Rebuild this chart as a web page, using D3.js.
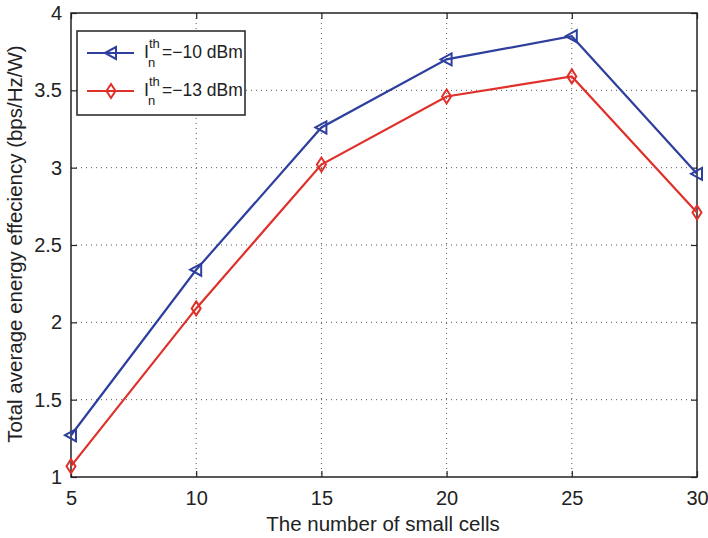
<!DOCTYPE html>
<html>
<head>
<meta charset="utf-8">
<script src="https://cdn.jsdelivr.net/npm/d3@7"></script>
<style>
  body { margin: 0; background: #fff; }
  svg { font-family: "Liberation Sans", Arial, sans-serif; }
  .grid line { stroke: #555; stroke-dasharray: 1 4; stroke-width: 1; }
</style>
</head>
<body>
<svg id="chart" width="708" height="538"></svg>
<script>
const cells = [5, 10, 15, 20, 25, 30];
const eeMinus10 = [1.27, 2.34, 3.26, 3.70, 3.85, 2.96];
const eeMinus13 = [1.07, 2.09, 3.02, 3.46, 3.59, 2.71];
const xTicks = [5, 10, 15, 20, 25, 30];
const yTicks = [1, 1.5, 2, 2.5, 3, 3.5, 4];

const series = [
  { name: "−10 dBm", values: eeMinus10, color: "#2e3f9e", marker: "triangle" },
  { name: "−13 dBm", values: eeMinus13, color: "#e0302a", marker: "diamond" }
];

const svg = d3.select("#chart");
const plotL = 71, plotR = 697, plotT = 13, plotB = 477;

const x = d3.scaleLinear().domain([5, 30]).range([plotL, plotR]);
const y = d3.scaleLinear().domain([1, 4]).range([plotB, plotT]);

// grid
const grid = svg.append("g").attr("class", "grid");
grid.selectAll(".gx").data(xTicks.slice(1, -1)).enter().append("line")
  .attr("x1", d => x(d)).attr("x2", d => x(d)).attr("y1", plotT).attr("y2", plotB);
grid.selectAll(".gy").data(yTicks.slice(1, -1)).enter().append("line")
  .attr("y1", d => y(d)).attr("y2", d => y(d)).attr("x1", plotL).attr("x2", plotR);

// axes (MATLAB style, ticks inside on all sides)
const tick = 6;
const fmt = d => String(d);
svg.append("g").attr("transform", `translate(0,${plotB})`)
  .call(d3.axisBottom(x).tickValues(xTicks).tickSize(-tick).tickPadding(14).tickFormat(fmt));
svg.append("g").attr("transform", `translate(0,${plotT})`)
  .call(d3.axisTop(x).tickValues(xTicks).tickSize(-tick).tickFormat(""));
svg.append("g").attr("transform", `translate(${plotL},0)`)
  .call(d3.axisLeft(y).tickValues(yTicks).tickSize(-tick).tickPadding(9).tickFormat(fmt));
svg.append("g").attr("transform", `translate(${plotR},0)`)
  .call(d3.axisRight(y).tickValues(yTicks).tickSize(-tick).tickFormat(""));
svg.selectAll(".domain").remove();
svg.selectAll(".tick line").attr("stroke", "#222").attr("stroke-width", 1.2);
svg.selectAll(".tick text").attr("font-size", 20).attr("fill", "#222")
  .attr("font-family", "Liberation Sans, Arial, sans-serif");

svg.append("rect").attr("x", plotL).attr("y", plotT)
  .attr("width", plotR - plotL).attr("height", plotB - plotT)
  .attr("fill", "none").attr("stroke", "#222").attr("stroke-width", 1.5);

// markers
function markerPath(type) {
  if (type === "triangle") return "M-6,0 L5,-6 L5,6 Z";
  return "M0,-7 L4.5,0 L0,7 L-4.5,0 Z";
}

const line = d3.line().x((d, i) => x(cells[i])).y(d => y(d));

series.forEach(s => {
  svg.append("path").datum(s.values)
    .attr("d", line).attr("fill", "none")
    .attr("stroke", s.color).attr("stroke-width", 2.2);
  svg.selectAll(null).data(s.values).enter().append("path")
    .attr("transform", (d, i) => `translate(${x(cells[i])},${y(d)})`)
    .attr("d", markerPath(s.marker))
    .attr("fill", "none").attr("stroke", s.color).attr("stroke-width", 2);
});

// legend
const lg = svg.append("g");
lg.append("rect").attr("x", 77).attr("y", 31).attr("width", 168).attr("height", 84)
  .attr("fill", "#fff").attr("stroke", "#222").attr("stroke-width", 1.5);
series.forEach((s, i) => {
  const ly = 53 + i * 38;
  lg.append("line").attr("x1", 87).attr("x2", 134).attr("y1", ly).attr("y2", ly)
    .attr("stroke", s.color).attr("stroke-width", 2.2);
  lg.append("path").attr("transform", `translate(111,${ly})`)
    .attr("d", markerPath(s.marker))
    .attr("fill", "none").attr("stroke", s.color).attr("stroke-width", 2);
  const base = ly + 5;
  lg.append("text").attr("x", 144).attr("y", base)
    .attr("font-size", 18).attr("fill", "#222").text("I");
  lg.append("text").attr("x", 149).attr("y", base - 10)
    .attr("font-size", 13).attr("fill", "#222").text("th");
  lg.append("text").attr("x", 148).attr("y", base + 9)
    .attr("font-size", 13).attr("fill", "#222").text("n");
  lg.append("text").attr("x", 162).attr("y", base)
    .attr("font-size", 17.5).attr("fill", "#222").text("=" + s.name);
});

// axis labels
svg.append("text").attr("x", (plotL + plotR) / 2 - 1).attr("y", 531)
  .attr("text-anchor", "middle").attr("font-size", 20.5).attr("fill", "#222")
  .text("The number of small cells");
svg.append("text").attr("transform", `translate(22,${(plotT + plotB) / 2 - 1}) rotate(-90)`)
  .attr("text-anchor", "middle").attr("font-size", 20.5).attr("fill", "#222")
  .text("Total average energy effeciency (bps/Hz/W)");
</script>
</body>
</html>
